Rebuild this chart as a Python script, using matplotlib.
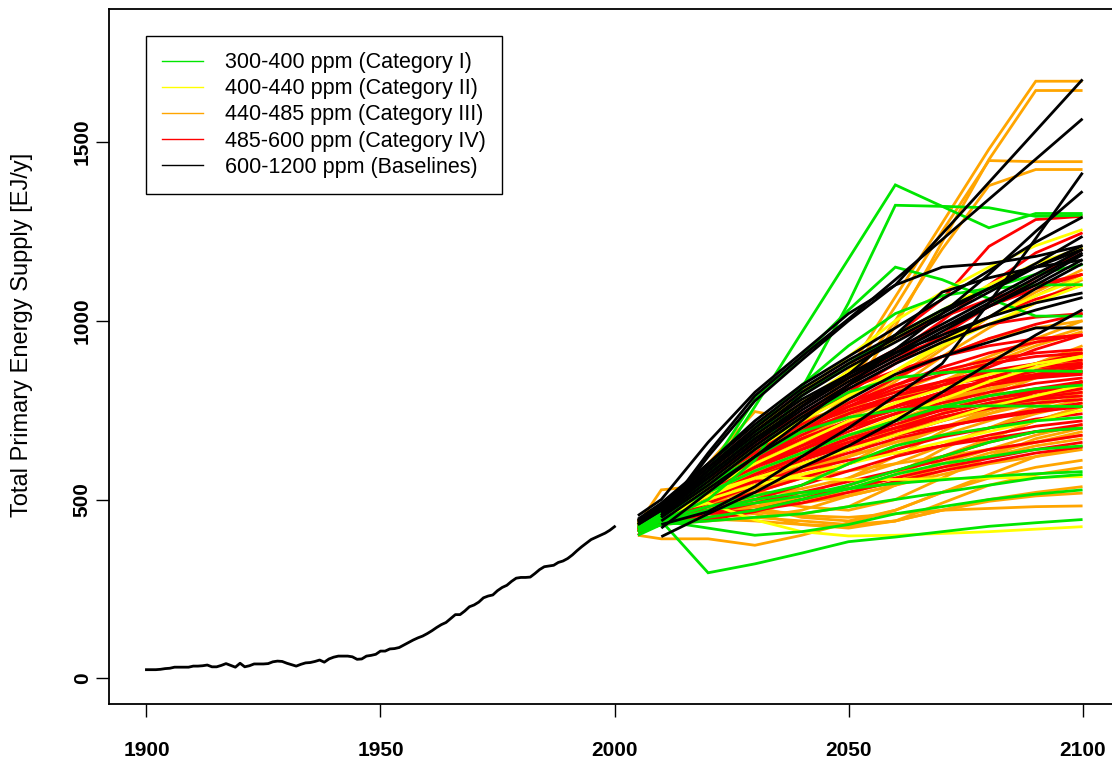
import matplotlib
matplotlib.use("Agg")
import matplotlib.pyplot as plt
from matplotlib.lines import Line2D
import numpy as np

plt.rcParams['font.family'] = ['Liberation Sans', 'DejaVu Sans']

# ---------------- data ----------------
hist_years = list(range(1900, 2001))
hist_values = [24, 24, 24, 25, 27, 28, 31, 31, 31, 31, 34, 34, 35, 37, 32, 32, 36, 41, 36, 31,
               42, 32, 35, 40, 40, 40, 41, 46, 48, 47, 42, 38, 34, 39, 43, 44, 47, 51, 45, 54,
               59, 62, 62, 62, 60, 53, 54, 62, 64, 67, 76, 76, 82, 83, 86, 93, 100, 107, 113, 118,
               125, 133, 142, 150, 156, 167, 178, 178, 188, 200, 205, 213, 225, 230, 233, 245, 254, 260, 271, 280,
               282, 282, 283, 293, 304, 312, 314, 316, 324, 328, 335, 345, 357, 368, 378, 388, 394, 400, 406, 414,
               424]

scen_years = [2005, 2010, 2020, 2030, 2040, 2050, 2060, 2070, 2080, 2090, 2100]
N = None

cat1_green = [
    [420, 445, 560, 760, 967, 1173, 1380, 1320, 1260, 1300, 1300],
    [410, 440, 500, 610, 810, 1050, 1323, 1320, 1316, 1292, 1295],
    [425, 455, 580, 780, 900, 1030, 1150, 1115, 1062, 1013, 1013],
    [415, 440, 295, 320, 350, 382, 395, 410, 425, 435, 444],
    [420, 440, 420, 400, 410, 430, 460, 480, 500, 515, 527],
    [400, 430, 470, 500, 520, 530, 545, 555, 565, 572, 578],
    [430, 460, 540, 620, 690, 730, 750, 760, 762, 761, 760],
    [420, 450, 540, 640, 730, 800, 840, 855, 860, 860, 858],
    [435, 465, 580, 700, 820, 930, 1020, 1070, 1090, 1100, 1101],
    [430, 455, 560, 680, 790, 880, 960, 1030, 1090, 1130, 1157],
    [410, 430, 450, 470, 500, 530, 570, 600, 620, 640, 650],
    [425, 445, 480, 510, 540, 600, 650, 680, 700, 720, 730],
    [420, 440, 470, 490, 510, 540, 580, 620, 660, 690, 700],
    [430, 455, 520, 580, 630, 680, 720, 760, 790, 810, 820],
    [410, 430, 440, 450, 460, 480, 500, 520, 540, 560, 570],
]
cat2_yellow = [
    [440, 460, 490, 443, 410, 398, 400, 405, 410, 417, 424],
    [430, 455, 520, 560, 560, 555, 556, 558, 560, 562, 564],
    [440, 475, 580, 690, 800, 900, 1000, 1080, 1150, 1210, 1255],
    [435, 470, 570, 670, 770, 860, 950, 1030, 1100, 1160, 1204],
    [430, 460, 550, 640, 720, 790, 860, 930, 990, 1050, 1100],
    [425, 455, 530, 600, 660, 720, 770, 810, 850, 880, 900],
    [430, 450, 510, 560, 600, 640, 680, 720, 760, 790, 820],
    [420, 445, 500, 540, 570, 600, 630, 660, 690, 720, 750],
    [425, 455, 520, 580, 630, 680, 730, 780, 830, 870, 900],
    [430, 460, 540, 620, 700, 780, 860, 940, 1010, 1070, 1120],
]
cat3_orange = [
    [430, 470, 540, 620, 700, 860, 1067, 1273, 1480, 1670, 1670],
    [425, 465, 530, 600, 690, 790, 985, 1220, 1451, 1644, 1644],
    [435, 475, 550, 640, 720, 840, 1040, 1250, 1448, 1445, 1445],
    [430, 470, 545, 630, 710, 820, 1000, 1200, 1378, 1423, 1423],
    [425, 460, 520, 590, 660, 740, 830, 920, 1010, 1080, 1143],
    [430, 465, 530, 600, 670, 750, 840, 930, 1010, 1070, 1130],
    [420, 455, 510, 570, 640, 720, 810, 900, 980, 1050, 1115],
    [440, 480, 560, 640, 720, 790, 850, 900, 950, 980, 1000],
    [425, 450, 500, 550, 610, 670, 730, 790, 840, 880, 919],
    [420, 445, 490, 530, 580, 640, 700, 760, 820, 860, 905],
    [415, 440, 470, 500, 540, 600, 670, 740, 800, 850, 891],
    [430, 460, 500, 520, 560, 620, 690, 760, 810, 850, 870],
    [420, 440, 460, 480, 510, 560, 620, 690, 750, 790, 816],
    [410, 430, 440, 450, 470, 510, 570, 640, 700, 750, 780],
    [420, 450, 480, 470, 460, 480, 540, 610, 670, 720, 760],
    [425, 455, 490, 500, 480, 470, 500, 560, 620, 670, 700],
    [430, 460, 500, 480, 450, 440, 470, 520, 570, 620, 650],
    [400, 390, 390, 372, 400, 435, 470, 520, 560, 590, 610],
    [415, 445, 470, 460, 430, 420, 440, 490, 540, 570, 590],
    [420, 440, 460, 450, 440, 430, 440, 470, 500, 520, 536],
    [410, 430, 445, 440, 430, 425, 440, 470, 495, 510, 518],
    [420, 445, 470, 465, 455, 450, 460, 470, 475, 480, 482],
    [440, 470, 530, 580, 620, 660, 700, 740, 770, 800, 830],
    [435, 465, 520, 570, 610, 650, 690, 720, 750, 780, 800],
    [430, 460, 510, 540, 570, 600, 640, 680, 720, 760, 790],
    [425, 470, 540, 600, 650, 700, 740, 780, 810, 840, 860],
    [440, 480, 560, 630, 690, 740, 780, 820, 850, 880, 910],
    [430, 527, 540, 560, 580, 620, 660, 700, 740, 770, 800],
    [440, 480, 600, 746, 720, 760, 800, 850, 900, 950, 1000],
    [420, 450, 500, 540, 560, 580, 600, 620, 640, 660, 680],
    [430, 460, 500, 530, 560, 600, 650, 700, 750, 790, 830],
    [420, 450, 490, 510, 530, 560, 600, 650, 700, 740, 770],
    [435, 470, 530, 580, 620, 670, 720, 770, 820, 860, 890],
    [425, 455, 500, 520, 520, 530, 560, 600, 640, 680, 710],
    [440, 475, 540, 600, 650, 710, 770, 830, 890, 940, 980],
    [430, 465, 520, 560, 590, 620, 660, 700, 740, 780, 810],
    [415, 440, 470, 480, 490, 510, 540, 570, 600, 620, 640],
    [425, 460, 510, 550, 590, 640, 700, 760, 820, 880, 930],
    [420, 450, 480, 490, 500, 520, 550, 590, 630, 660, 690],
    [435, 470, 530, 570, 600, 640, 690, 740, 790, 840, 880],
    [410, 440, 480, 500, 510, 530, 570, 620, 670, 720, 760],
    [430, 470, 550, 620, 680, 730, 780, 830, 880, 930, 970],
    [425, 455, 490, 500, 500, 510, 540, 580, 620, 650, 670],
    [440, 480, 550, 610, 660, 700, 740, 780, 820, 850, 880],
]
cat4_red = [
    [430, 460, 560, 660, 760, 860, 960, 1060, 1208, 1283, 1292],
    [425, 455, 550, 640, 730, 820, 910, 1000, 1100, 1190, 1246],
    [430, 465, 560, 650, 740, 820, 890, 950, 1010, 1060, 1100],
    [420, 450, 530, 610, 690, 760, 820, 870, 910, 940, 961],
    [435, 470, 560, 640, 700, 760, 800, 830, 855, 870, 882],
    [425, 460, 540, 610, 670, 720, 760, 790, 820, 845, 860],
    [420, 455, 530, 600, 650, 700, 740, 770, 800, 825, 840],
    [430, 460, 540, 600, 640, 680, 720, 750, 780, 805, 826],
    [415, 440, 500, 560, 610, 650, 690, 730, 760, 785, 800],
    [420, 450, 510, 570, 620, 660, 700, 730, 755, 770, 780],
    [425, 455, 520, 580, 620, 650, 680, 705, 725, 745, 760],
    [410, 435, 480, 520, 560, 600, 640, 675, 700, 725, 740],
    [420, 440, 470, 500, 540, 580, 620, 650, 680, 705, 720],
    [430, 460, 510, 550, 580, 610, 630, 650, 670, 690, 700],
    [415, 435, 460, 490, 520, 550, 580, 610, 640, 660, 680],
    [410, 430, 450, 470, 500, 530, 560, 590, 615, 640, 660],
    [420, 440, 460, 470, 490, 520, 550, 580, 605, 630, 647],
    [400, 452, 443, 466, 500, 540, 580, 620, 660, 690, 710],
    [435, 470, 570, 670, 760, 840, 900, 950, 990, 1010, 1020],
    [440, 480, 590, 700, 800, 880, 950, 1010, 1060, 1100, 1130],
    [430, 465, 555, 640, 720, 800, 880, 960, 1040, 1120, 1200],
    [425, 455, 540, 620, 700, 770, 840, 900, 950, 990, 1020],
    [420, 450, 520, 590, 650, 710, 760, 800, 830, 850, 870],
    [430, 465, 550, 630, 690, 740, 780, 810, 830, 845, 855],
    [415, 450, 530, 610, 680, 740, 790, 830, 860, 880, 890],
    [425, 460, 545, 630, 700, 750, 790, 820, 840, 860, 875],
    [410, 440, 500, 560, 610, 660, 700, 740, 770, 790, 810],
    [435, 460, 520, 580, 640, 700, 760, 820, 870, 920, 960],
    [430, 470, 570, 660, 740, 810, 860, 900, 930, 950, 960],
    [425, 460, 550, 630, 700, 760, 810, 850, 880, 900, 910],
    [420, 455, 530, 600, 660, 710, 750, 790, 820, 840, 850],
    [435, 470, 560, 640, 710, 770, 820, 860, 890, 910, 920],
    [415, 445, 510, 570, 620, 670, 710, 750, 780, 800, 820],
    [430, 465, 540, 610, 670, 720, 760, 800, 830, 860, 880],
    [420, 450, 520, 580, 630, 680, 720, 760, 790, 810, 830],
    [440, 480, 580, 680, 770, 850, 920, 980, 1040, 1090, 1130],
    [425, 455, 520, 580, 630, 670, 700, 730, 760, 780, 790],
    [410, 440, 490, 540, 590, 630, 670, 700, 730, 750, 770],
    [430, 460, 530, 590, 640, 690, 740, 790, 840, 880, 910],
    [420, 450, 510, 560, 600, 640, 680, 720, 760, 800, 830],
]
baselines_black = [
    [N, 450, 620, 776, 890, 1000, 1100, 1243, 1387, 1531, 1675],
    [N, 455, 630, 790, 900, 1005, 1115, 1227, 1340, 1452, 1565],
    [455, 500, 660, 800, 910, 1020, 1100, 1150, 1160, 1180, 1210],
    [N, 430, 466, 536, 620, 700, 790, 880, 1050, 1230, 1414],
    [N, 420, 520, 620, 720, 820, 920, 1020, 1130, 1250, 1362],
    [445, 490, 600, 720, 820, 900, 980, 1060, 1140, 1220, 1290],
    [440, 480, 590, 700, 800, 880, 950, 1020, 1090, 1160, 1236],
    [N, 470, 580, 690, 790, 870, 940, 1010, 1080, 1150, 1210],
    [435, 475, 580, 680, 770, 850, 920, 990, 1060, 1130, 1199],
    [N, 460, 560, 660, 750, 830, 900, 970, 1040, 1110, 1185],
    [430, 470, 570, 670, 760, 840, 910, 980, 1040, 1100, 1171],
    [N, 455, 550, 650, 740, 820, 890, 950, 1010, 1090, 1160],
    [440, 480, 590, 690, 780, 850, 910, 960, 1010, 1050, 1078],
    [N, 450, 540, 640, 730, 810, 880, 940, 990, 1030, 1065],
    [N, 396, 460, 520, 590, 650, 720, 800, 880, 960, 1031],
    [N, 440, 530, 620, 700, 780, 850, 900, 940, 980, 980],
    [430, 470, 560, 660, 760, 850, 960, 1080, 1120, 1150, 1170],
    [N, 465, 570, 670, 760, 840, 910, 980, 1050, 1120, 1190],
    [440, 485, 600, 710, 810, 890, 960, 1030, 1090, 1150, 1200],
]

legend_labels = ["300-400 ppm (Category I)", "400-440 ppm (Category II)",
                 "440-485 ppm (Category III)", "485-600 ppm (Category IV)",
                 "600-1200 ppm (Baselines)"]
cat_colors = ["#00E600", "#FFFF00", "#FFA500", "#FF0000", "#000000"]

# ---------------- figure ----------------
W, H = 1112, 762
fig = plt.figure(figsize=(W / 100, H / 100), dpi=100)
ax_l, ax_r, ax_t, ax_b = 109, 1120, 9, 704
ax = fig.add_axes([ax_l / W, 1 - ax_b / H, (ax_r - ax_l) / W, (ax_b - ax_t) / H])

def to_arr(row):
    return np.array([np.nan if v is None else v for v in row], dtype=float)

x_s = np.array(scen_years, dtype=float)
draw_order = [(cat3_orange, cat_colors[2]), (cat4_red, cat_colors[3]),
              (cat2_yellow, cat_colors[1]), (cat1_green, cat_colors[0]),
              (baselines_black, cat_colors[4])]
for group, col in draw_order:
    for row in group:
        y = to_arr(row)
        m = ~np.isnan(y)
        ax.plot(x_s[m], y[m], color=col, lw=2.0, solid_joinstyle='miter', solid_capstyle='butt')

ax.plot(hist_years, hist_values, color='black', lw=2.0)

ax.set_xlim(1892, 2108)
ax.set_ylim(-72, 1872)
ax.set_xticks([1900, 1950, 2000, 2050, 2100])
ax.set_yticks([0, 500, 1000, 1500])
ax.tick_params(axis='both', direction='out', length=9.5, width=1.0, color='black')
ax.tick_params(axis='x', pad=17, labelsize=15)
ax.tick_params(axis='y', pad=3, labelsize=15, labelrotation=90)
for lab in ax.get_xticklabels() + ax.get_yticklabels():
    lab.set_fontweight('bold')
for lab in ax.get_yticklabels():
    lab.set_va('center')
for sp in ax.spines.values():
    sp.set_linewidth(1.3)

fig.text(22 / W, 1 - 335 / H, "Total Primary Energy Supply [EJ/y]", rotation=90,
         ha='center', va='center', fontsize=17)

handles = [Line2D([0], [0], color=c, lw=1.0) for c in cat_colors]
leg = ax.legend(handles, legend_labels, loc='upper left',
                bbox_to_anchor=((146 - ax_l) / (ax_r - ax_l), (ax_b - 36) / (ax_b - ax_t)),
                fontsize=15.5, frameon=True, fancybox=False, framealpha=1,
                edgecolor='black', handlelength=1.9, handletextpad=1.0,
                labelspacing=0.24, borderpad=0.75, borderaxespad=0)
leg.get_frame().set_linewidth(1.0)

fig.savefig("out.png", dpi=100)
